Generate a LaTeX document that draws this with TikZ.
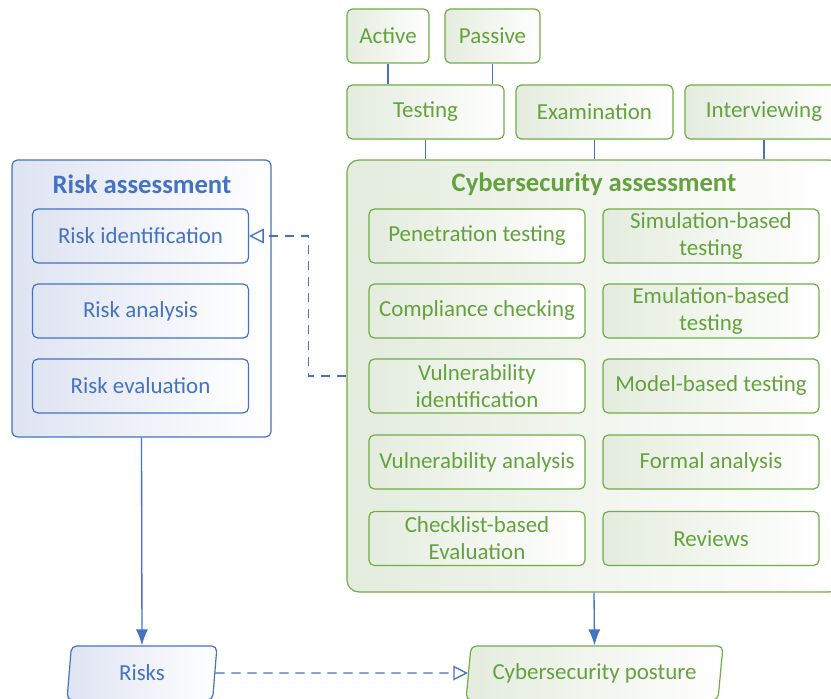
\documentclass[tikz,border=0pt]{standalone}
\usepackage{fontspec}
\setmainfont{Carlito}
\usepackage{tikz}
\usetikzlibrary{shapes.geometric, arrows.meta, positioning}

\definecolor{ogreen}{HTML}{70AD47}
\definecolor{tgreen}{HTML}{64A23E}
\definecolor{gfill}{HTML}{E4ECDE}
\definecolor{oblue}{HTML}{4472C4}
\definecolor{bfill}{HTML}{DFE4F2}

\tikzset{
  gbox/.style={draw=ogreen, rounded corners=4pt, left color=gfill, right color=white,
    text=tgreen, align=center, font=\fontsize{17.2}{20.3}\selectfont, line width=0.9pt},
  bbox/.style={draw=oblue, rounded corners=4pt, left color=bfill, right color=white,
    text=oblue, align=center, font=\fontsize{17.2}{20.3}\selectfont, line width=0.9pt},
  item/.style={minimum width=162pt, minimum height=40.5pt, inner sep=1pt},
  link/.style={draw=oblue, line width=1pt},
  dashline/.style={draw=oblue, line width=1pt, dash pattern=on 7pt off 5pt, -{Triangle[open,length=11pt,width=11pt]}},
  solidarrow/.style={draw=oblue, line width=1pt, -{Latex[length=12pt,width=9pt]}},
  slanted/.style={trapezium, trapezium left angle=80, trapezium right angle=100,
    trapezium stretches body, minimum height=40.5pt},
}

\begin{document}
\begin{tikzpicture}[x=0.75pt, y=-0.75pt]
\useasboundingbox (0,0) rectangle (831,699);

% Containers
\node[bbox, minimum width=194.25pt, minimum height=207.75pt] (ra) at (141.5,298.5) {};
\node[gbox, minimum width=370.5pt, minimum height=324pt, rounded corners=9pt] (ca) at (594,376) {};
\node[text=oblue, font=\fontsize{20}{24}\selectfont\bfseries] (ratitle) at (142,184) {Risk assessment};
\node[text=tgreen, font=\fontsize{20}{24}\selectfont\bfseries] (catitle) at (594,184) {Cybersecurity assessment};

% Top row
\node[gbox, minimum width=61.5pt, minimum height=40.5pt] (active) at (388,36) {Active};
\node[gbox, minimum width=71.25pt, minimum height=40.5pt] (passive) at (492.5,36) {Passive};
\node[gbox, minimum width=117.75pt, minimum height=40.5pt] (testing) at (425.5,112) {Testing};
\node[gbox, minimum width=117.75pt, minimum height=40.5pt] (exam) at (594.5,112) {Examination};
\node[gbox, minimum width=118.5pt, minimum height=40.5pt] (interv) at (764,112) {Interviewing};

% Risk assessment steps
\node[bbox, item] (rid) at (140.5,236) {Risk identification};
\node[bbox, item] (ran) at (140.5,311) {Risk analysis};
\node[bbox, item] (rev) at (140.5,386) {Risk evaluation};

% Cybersecurity assessment methods
\node[gbox, item] (pen) at (477,236) {Penetration testing};
\node[gbox, item] (comp) at (477,311) {Compliance checking};
\node[gbox, item] (vid) at (477,386) {Vulnerability\\identification};
\node[gbox, item] (van) at (477,462) {Vulnerability analysis};
\node[gbox, item] (check) at (477,538.5) {Checklist-based\\Evaluation};
\node[gbox, item] (sim) at (711,236) {Simulation-based\\testing};
\node[gbox, item] (emu) at (711,311) {Emulation-based\\testing};
\node[gbox, item] (model) at (711,386) {Model-based testing};
\node[gbox, item] (formal) at (711,462) {Formal analysis};
\node[gbox, item] (rev2) at (711,538.5) {Reviews};

% Outputs
\node[bbox, slanted, minimum width=112.5pt] (risks) at (142,673) {Risks};
\node[gbox, slanted, minimum width=192.75pt] (posture) at (594.5,673) {Cybersecurity posture};

% Links
\draw[link] (active) -- (active |- testing.north)
            (passive) -- (passive |- testing.north)
            (testing) -- (testing |- ca.north)
            (exam) -- (exam |- ca.north)
            (interv) -- (interv |- ca.north);

% Arrows
\draw[solidarrow] (ra.south) -- (risks.north);
\draw[solidarrow] (ca.south) -- (posture.north);
\draw[dashline] (ca.west) -- ++(-38,0) |- (rid.east);
\draw[dashline] (risks.east) -- (posture.west);

\end{tikzpicture}
\end{document}
